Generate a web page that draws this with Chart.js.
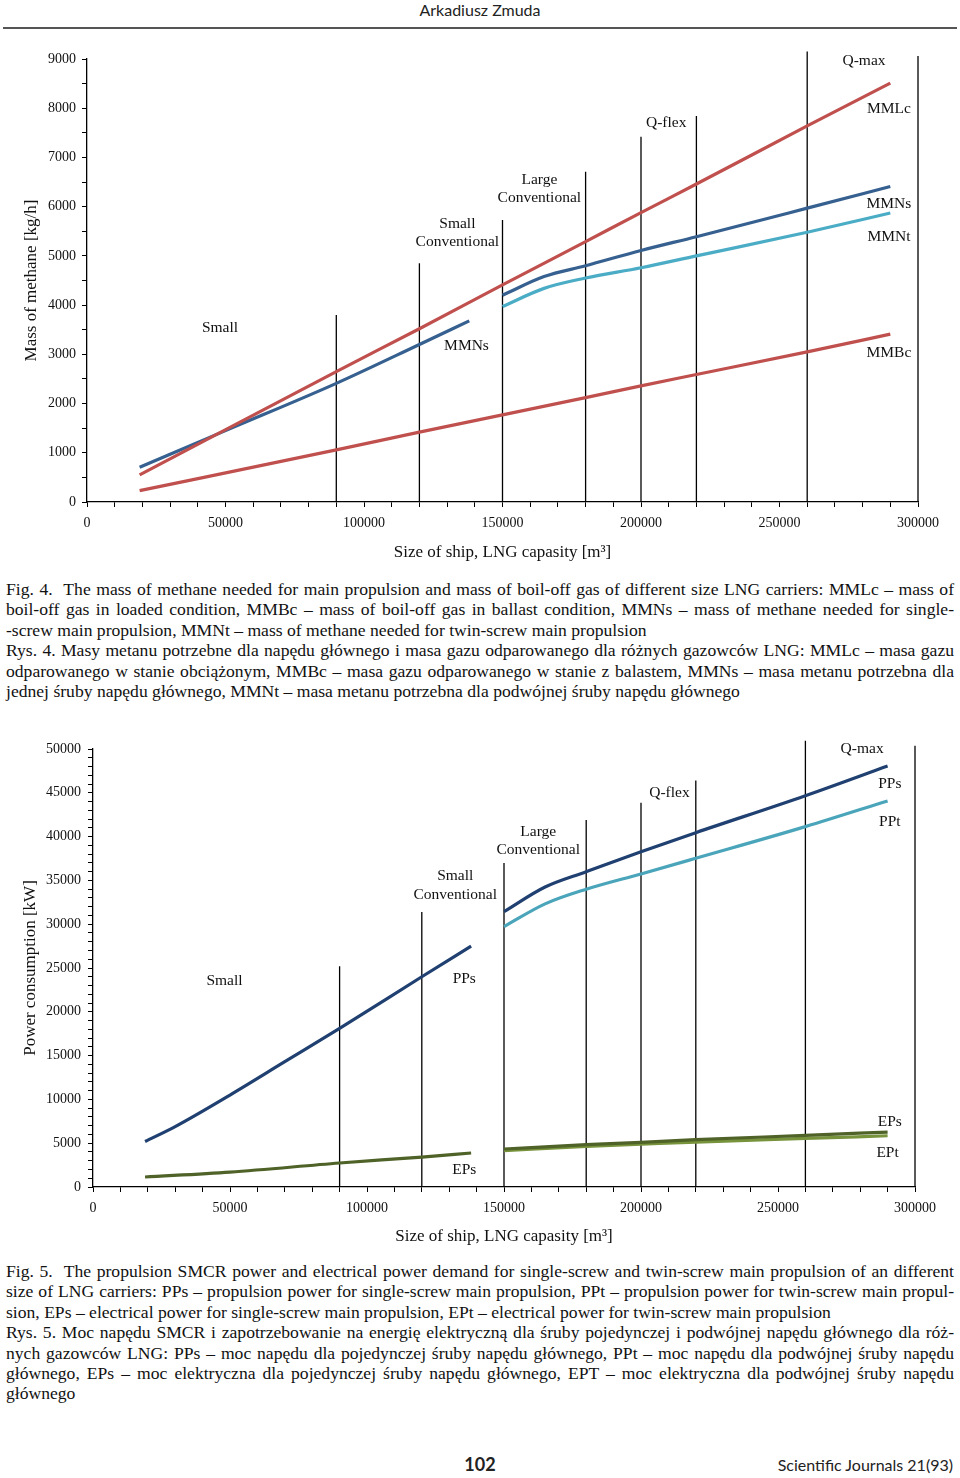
<!DOCTYPE html>
<html lang="en">
<head>
<meta charset="UTF-8">
<title>LNG carriers: methane mass and power demand</title>
<script src="https://cdn.jsdelivr.net/npm/chart.js"></script>
<style>
  body { margin:0; width:960px; height:1478px; position:relative; background:#fff; color:#111; font-family:"Liberation Serif", serif; overflow:hidden; }
  .abs { position:absolute; }
  #head { left:0; top:0; width:960px; text-align:center; font:16px Lato, sans-serif; line-height:20px; color:#222; }
  #rule { left:3px; top:27px; width:954px; height:2px; background:#555; }
  .cap { left:6px; width:948px; font-size:17.6px; line-height:20.4px; }
  .cap div { white-space:nowrap; text-align:justify; text-align-last:justify; }
  .cap div.last { text-align-last:left; }
  #page { left:0; top:1452px; width:960px; text-align:center; font:bold 18px Lato, sans-serif; line-height:24px; color:#222; }
  #journal { right:7px; top:1455px; font:16px Lato, sans-serif; line-height:20px; color:#222; }
</style>
</head>
<body>
<div class="abs" id="head">Arkadiusz Zmuda</div>
<div class="abs" id="rule"></div>

<canvas class="abs" id="methaneChart" width="960" height="530" style="left:0;top:40px"></canvas>

<div class="abs cap" style="top:579px">
  <div>Fig. 4.&nbsp; The mass of methane needed for main propulsion and mass of boil-off gas of different size LNG carriers: MMLc – mass of</div>
  <div>boil-off gas in loaded condition, MMBc – mass of boil-off gas in ballast condition, MMNs – mass of methane needed for single-</div>
  <div class="last">-screw main propulsion, MMNt – mass of methane needed for twin-screw main propulsion</div>
  <div>Rys. 4. Masy metanu potrzebne dla napędu głównego i masa gazu odparowanego dla różnych gazowców LNG: MMLc – masa gazu</div>
  <div>odparowanego w stanie obciążonym, MMBc – masa gazu odparowanego w stanie z balastem, MMNs – masa metanu potrzebna dla</div>
  <div class="last">jednej śruby napędu głównego, MMNt – masa metanu potrzebna dla podwójnej śruby napędu głównego</div>
</div>

<canvas class="abs" id="powerChart" width="960" height="530" style="left:0;top:725px"></canvas>

<div class="abs cap" style="top:1261px">
  <div>Fig. 5.&nbsp; The propulsion SMCR power and electrical power demand for single-screw and twin-screw main propulsion of an different</div>
  <div>size of LNG carriers: PPs – propulsion power for single-screw main propulsion, PPt – propulsion power for twin-screw main propul-</div>
  <div class="last">sion, EPs – electrical power for single-screw main propulsion, EPt – electrical power for twin-screw main propulsion</div>
  <div>Rys. 5. Moc napędu SMCR i zapotrzebowanie na energię elektryczną dla śruby pojedynczej i podwójnej napędu głównego dla róż-</div>
  <div>nych gazowców LNG: PPs – moc napędu dla pojedynczej śruby napędu głównego, PPt – moc napędu dla podwójnej śruby napędu</div>
  <div>głównego, EPs – moc elektryczna dla pojedynczej śruby napędu głównego, EPT – moc elektryczna dla podwójnej śruby napędu</div>
  <div class="last">głównego</div>
</div>

<div class="abs" id="page">102</div>
<div class="abs" id="journal">Scientific Journals 21(93)</div>

<script>
// ship classes: boundaries on the x axis [m3]
const classBounds = [90000, 120000, 150000, 180000, 200000, 220000, 260000, 300000];
const classTops1 = [3800, 4850, 5730, 6710, 7420, 7840, 9150, 9060];          // kg/h
const classTops2 = [25200, 31400, 37000, 41900, 43850, 46400, 50950, 50380];  // kW

// Fig. 4 - mass of methane [kg/h]
const boilX = [19000, 90000, 120000, 150000, 180000, 200000, 220000, 260000, 290000];
const mmlc = [550, 2650, 3520, 4410, 5290, 5880, 6460, 7640, 8510];
const mmbc = [230, 1060, 1420, 1770, 2120, 2360, 2590, 3050, 3410];
const smallX = [19000, 50000, 90000, 120000, 138000];
const mmnsSmall = [705, 1450, 2410, 3200, 3680];
const largeX = [150000, 165000, 180000, 200000, 220000, 260000, 290000];
const mmnsLarge = [4200, 4580, 4800, 5110, 5390, 5970, 6410];
const mmnt = [3970, 4340, 4550, 4760, 5000, 5480, 5870];

// Fig. 5 - power [kW]
const ppsSmallX = [19000, 30000, 50000, 70000, 90000, 120000, 138000];
const ppsSmall = [5200, 6900, 10500, 14300, 18100, 24000, 27500];
const ppsLarge = [31440, 34250, 36000, 38280, 40450, 44670, 48060];
const ppt = [29730, 32320, 33990, 35740, 37530, 41140, 44070];
const epsSmallX = [19000, 50000, 90000, 120000, 138000];
const epsSmall = [1140, 1700, 2740, 3420, 3880];
const epLargeX = [150000, 180000, 200000, 220000, 260000, 290000];
const epsLarge = [4340, 4830, 5100, 5400, 5890, 6270];
const ept = [4140, 4630, 4880, 5130, 5540, 5850];

// text notes inside the plots (data coordinates)
const notes1Text = ['Small', 'Small', 'Conventional', 'Large', 'Conventional', 'Q-flex', 'Q-max', 'MMLc', 'MMNs', 'MMNt', 'MMBc', 'MMNs'];
const notes1X = [48000, 133700, 133700, 163300, 163300, 209100, 280500, 289500, 289500, 289500, 289500, 137000];
const notes1Y = [3540, 5650, 5280, 6540, 6180, 7700, 8960, 7990, 6055, 5385, 3030, 3170];
const notes2Text = ['Small', 'Small', 'Conventional', 'Large', 'Conventional', 'Q-flex', 'Q-max', 'PPs', 'PPt', 'PPs', 'EPs', 'EPt', 'EPs'];
const notes2X = [48000, 132200, 132200, 162500, 162500, 210400, 280700, 290800, 290800, 135500, 290800, 290000, 135500];
const notes2Y = [23530, 35510, 33340, 40530, 38480, 44980, 50010, 46010, 41680, 23760, 7450, 3920, 1970];

const SERIF = '"Liberation Serif", "Times New Roman", serif';

function pts(xs, ys) {
  return xs.map((x, i) => ({ x: x, y: ys[i] }));
}

function curve(xs, ys, color) {
  return {
    data: pts(xs, ys),
    borderColor: color,
    borderWidth: 3.2,
    pointRadius: 0,
    cubicInterpolationMode: 'monotone',
    fill: false
  };
}

function boundaries(tops) {
  return classBounds.map((b, i) => ({
    data: [{ x: b, y: 0 }, { x: b, y: tops[i] }],
    borderColor: '#000',
    borderWidth: 1.3,
    pointRadius: 0,
    clip: false
  }));
}

const notesPlugin = {
  id: 'notes',
  afterDatasetsDraw(chart, args, opts) {
    const ctx = chart.ctx;
    const xs = chart.scales.x, ys = chart.scales.y;
    ctx.save();
    ctx.font = '15.5px ' + SERIF;
    ctx.fillStyle = '#111';
    ctx.textAlign = 'center';
    ctx.textBaseline = 'middle';
    opts.text.forEach((t, i) => {
      ctx.fillText(t, xs.getPixelForValue(opts.x[i]), ys.getPixelForValue(opts.y[i]));
    });
    ctx.restore();
  }
};

function buildOptions(o) {
  return {
    responsive: false,
    animation: false,
    layout: { padding: { left: 0, right: o.padRight, top: o.padTop, bottom: 0 } },
    plugins: {
      legend: { display: false },
      tooltip: { enabled: false },
      notes: o.notes
    },
    scales: {
      x: {
        type: 'linear', min: 0, max: 300000,
        ticks: {
          stepSize: 10000, autoSkip: false, maxRotation: 0, padding: 8,
          color: '#111', font: { family: SERIF, size: 14 },
          callback: v => (v % 50000 === 0 ? String(v) : '')
        },
        grid: { drawOnChartArea: false, tickLength: 5, color: '#000', tickColor: '#000' },
        border: { color: '#000', width: 1.3 },
        title: {
          display: true, text: 'Size of ship, LNG capasity [m³]', color: '#111',
          font: { family: SERIF, size: 17 }, padding: { top: 0, bottom: o.xTitlePad }
        },
        afterFit: s => { s.height = 68; }
      },
      y: {
        min: 0, max: o.yMax,
        ticks: {
          stepSize: o.yStep, autoSkip: false, padding: o.yTickPad,
          color: '#111', font: { family: SERIF, size: 14 },
          callback: v => (v % o.yLabelEvery === 0 ? String(v) : '')
        },
        grid: { drawOnChartArea: false, tickLength: 5, color: '#000', tickColor: '#000' },
        border: { color: '#000', width: 1.3 },
        title: {
          display: true, text: o.yTitle, color: '#111',
          font: { family: SERIF, size: 17 }, padding: { top: o.yTitlePad, bottom: 0 }
        },
        afterFit: s => { s.width = o.yWidth; }
      }
    }
  };
}

// Fig. 4
new Chart(document.getElementById('methaneChart'), {
  type: 'line',
  data: {
    datasets: [
      curve(boilX, mmlc, '#C0504D'),
      curve(boilX, mmbc, '#C0504D'),
      curve(smallX, mmnsSmall, '#36608F'),
      curve(largeX, mmnsLarge, '#36608F'),
      curve(largeX, mmnt, '#4BACC6')
    ].concat(boundaries(classTops1))
  },
  options: buildOptions({
    padRight: 42, padTop: 19, yWidth: 87, yMax: 9000, yStep: 500, yLabelEvery: 1000,
    yTickPad: 6, yTitle: 'Mass of methane [kg/h]', yTitlePad: 21, xTitlePad: 7,
    notes: { text: notes1Text, x: notes1X, y: notes1Y }
  }),
  plugins: [notesPlugin]
});

// Fig. 5
new Chart(document.getElementById('powerChart'), {
  type: 'line',
  data: {
    datasets: [
      curve(ppsSmallX, ppsSmall, '#1F4070'),
      curve(largeX, ppsLarge, '#1F4070'),
      curve(largeX, ppt, '#4AA5BB'),
      curve(epsSmallX, epsSmall, '#4F6228'),
      curve(epLargeX, epsLarge, '#4F6228'),
      curve(epLargeX, ept, '#77933C')
    ].concat(boundaries(classTops2))
  },
  options: buildOptions({
    padRight: 45, padTop: 24, yWidth: 93, yMax: 50000, yStep: 1000, yLabelEvery: 5000,
    yTickPad: 7, yTitle: 'Power consumption [kW]', yTitlePad: 20, xTitlePad: 8,
    notes: { text: notes2Text, x: notes2X, y: notes2Y }
  }),
  plugins: [notesPlugin]
});
</script>
</body>
</html>
